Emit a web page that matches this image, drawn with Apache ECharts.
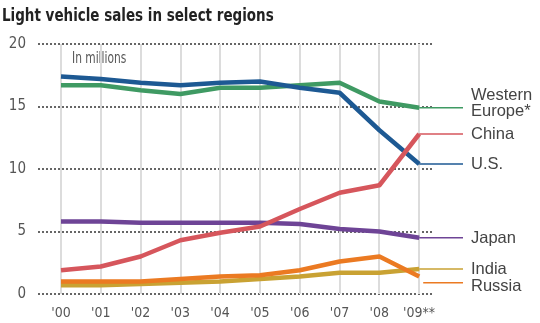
<!DOCTYPE html>
<html><head><meta charset="utf-8">
<script src="https://cdn.jsdelivr.net/npm/echarts@6/dist/echarts.min.js"></script>
<style>html,body{margin:0;padding:0;background:#fff}#c{width:540px;height:323px}</style>
</head><body><div id="c"></div>
<script>
const years = [2000,2001,2002,2003,2004,2005,2006,2007,2008,2009];
const tickLabels = ["'00","'01","'02","'03","'04","'05","'06","'07","'08","'09**"];
const yTicks = [0,5,10,15,20];
const usSales     = [17.4,17.2,16.9,16.7,16.9,17.0,16.5,16.1,13.1,10.4];
const westEurope  = [16.7,16.7,16.3,16.0,16.5,16.5,16.7,16.9,15.4,14.9];
const chinaSales  = [1.9,2.2,3.0,4.3,4.9,5.4,6.8,8.1,8.7,12.8];
const japanSales  = [5.8,5.8,5.7,5.7,5.7,5.7,5.6,5.2,5.0,4.5];
const russiaSales = [1.0,1.0,1.0,1.2,1.4,1.5,1.9,2.6,3.0,1.4];
const indiaSales  = [0.7,0.7,0.8,0.9,1.0,1.2,1.4,1.7,1.7,2.0];
const labelNames = {we:'Western\nEurope*', china:'China', us:'U.S.', japan:'Japan', india:'India', russia:'Russia'};
const connectorEnd = 2010.1;
const russiaConnectorY = 0.9;

const FONT = '"DejaVu Sans Condensed","Liberation Sans Narrow",Arial,sans-serif';
const LABELFONT = '"Liberation Sans",Arial,sans-serif';
const chart = echarts.init(document.getElementById('c'), null, {renderer:'canvas'});

function pairs(arr){ return years.map((y,i)=>[y,arr[i]]); }
function mainLine(name, arr, color, z){
  return {type:'line', name, xAxisIndex:0, yAxisIndex:0, data:pairs(arr), symbol:'none',
    lineStyle:{color, width:4.5, cap:'butt', join:'round'}, z:z||5, silent:true};
}
function connector(name, y0, yv, color, label, offset){
  return {type:'line', name:name+'c', xAxisIndex:0, yAxisIndex:0, symbol:'none', silent:true,
    data:[[y0, yv],[connectorEnd, yv]], lineStyle:{color, width:1.5}, z:4,
    endLabel:{show:true, formatter:label, fontFamily:LABELFONT, fontSize:16.5, color:'#444', distance:8,
      offset:offset||[0,0], lineHeight:16}};
}

const option = {
  animation:false,
  backgroundColor:'#fff',
  grid:[
    {left:61, right:77, top:44, bottom:29},
    {left:61, right:121, top:44, bottom:29},
    {left:38, right:107, top:44, bottom:29}
  ],
  xAxis:[
    {type:'value', gridIndex:0, min:2000, max:connectorEnd, show:false},
    {type:'category', gridIndex:1, data:tickLabels, boundaryGap:false,
      axisLine:{show:false}, axisTick:{show:false},
      axisLabel:{fontFamily:FONT, fontSize:14, color:'#555', margin:12, interval:0},
      splitLine:{show:true, lineStyle:{color:'#dcdcdc', width:2}}},
    {type:'value', gridIndex:2, show:false}
  ],
  yAxis:[
    {type:'value', gridIndex:0, min:0, max:20, show:false},
    {type:'value', gridIndex:1, min:0, max:20, show:false},
    {type:'value', gridIndex:2, min:0, max:20, interval:5,
      axisLine:{show:false}, axisTick:{show:false},
      axisLabel:{fontFamily:FONT, fontSize:15, color:'#555', margin:12},
      splitLine:{show:true, lineStyle:{color:'#666', width:2, type:[2,2]}}}
  ],
  graphic:[
    {type:'text', x:2, y:7, scaleX:0.81, style:{text:'Light vehicle sales in select regions', fontFamily:FONT, fontWeight:'bold', fontSize:18.5, fill:'#222'}},
    {type:'text', x:72, y:51, scaleX:0.74, style:{text:'In millions', fontFamily:FONT, fontSize:16, fill:'#555'}}
  ],
  series:[
    mainLine('India', indiaSales, '#c9a233', 5),
    mainLine('Russia', russiaSales, '#eb7a22', 6),
    mainLine('Japan', japanSales, '#6e4496', 5),
    mainLine('China', chinaSales, '#d6565c', 7),
    mainLine('WE', westEurope, '#3f9a63', 5),
    mainLine('US', usSales, '#1d5993', 6),
    connector('we', 2009, westEurope[9], '#3f9a63', labelNames.we, [0,-4]),
    connector('china', 2009, chinaSales[9], '#d6565c', labelNames.china),
    connector('us', 2009, usSales[9], '#1d5993', labelNames.us),
    connector('japan', 2009, japanSales[9], '#6e4496', labelNames.japan, [0,1]),
    connector('india', 2009, indiaSales[9], '#c9a233', labelNames.india),
    connector('russia', 2009.1, russiaConnectorY, '#eb7a22', labelNames.russia, [0,4])
  ]
};
chart.setOption(option);
</script></body></html>
